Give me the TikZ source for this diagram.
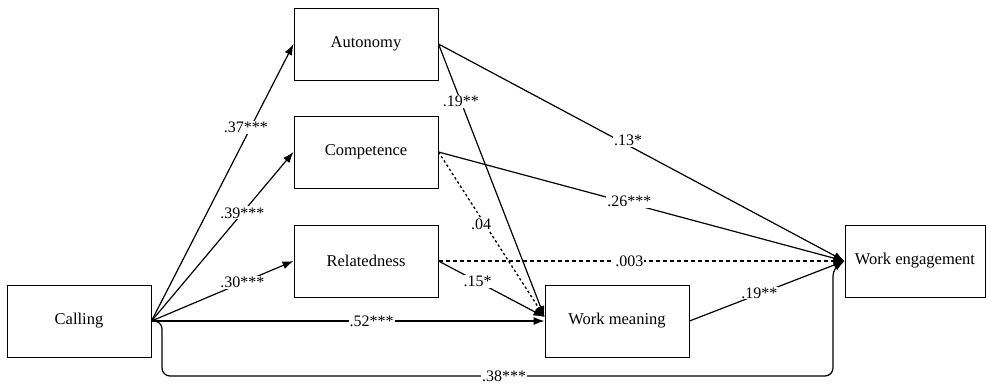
\documentclass[tikz,border=0pt]{standalone}
\usepackage{fontspec}
\setmainfont{Liberation Serif}
\usetikzlibrary{arrows.meta}
\begin{document}
\begin{tikzpicture}[x=1pt,y=-1pt,
  box/.style={draw, line width=1pt, minimum width=144pt, minimum height=72pt, inner sep=0pt, font=\fontsize{16.5}{18}\selectfont},
  conn/.style={line width=1.2pt, -{Latex[length=11pt,width=8pt]}},
  lbl/.style={fill=white, inner sep=1pt, font=\fontsize{16}{18}\selectfont},
  dsh/.style={dash pattern=on 4pt off 3pt},
  dotl/.style={dash pattern=on 2.5pt off 2.5pt, line width=1.3pt}]
\useasboundingbox (0,0) rectangle (987,384);

\node[box] (C) at (79,321) {Calling};
\node[box] (A) at (366,44) {Autonomy};
\node[box] (K) at (366,152) {Competence};
\node[box] (R) at (366,261) {Relatedness};
\node[box] (WM) at (617,321) {Work meaning};
\node[box, minimum width=140pt] (WE) at (915,261) {Work engagement};

\coordinate (wmin) at ([yshift=4pt]WM.west);

% Calling to mediators
\draw[conn] (C.east) -- node[lbl,pos=0.70,xshift=-5pt]{.37***} (A.west);
\draw[conn] (C.east) -- node[lbl,pos=0.64]{.39***} (K.west);
\draw[conn] (C.east) -- node[lbl,pos=0.64]{.30***} (R.west);
\draw[conn] (C.east) -- node[lbl,pos=0.56]{.52***} (WM.west);

% mediators to work meaning
\draw[conn] (A.east) -- node[lbl,pos=0.21]{.19**} (wmin);
\draw[conn,dotl] (K.east) -- node[lbl,pos=0.44,xshift=-4pt]{.04} (wmin);
\draw[conn] (R.east) -- node[lbl,pos=0.37]{.15*} (wmin);

% to work engagement
\draw[conn] (A.east) -- node[lbl,pos=0.467,yshift=5pt]{.13*} (WE.west);
\draw[conn] (K.east) -- node[lbl,pos=0.47,yshift=2pt]{.26***} (WE.west);
\draw[conn,dsh] (R.east) -- node[lbl,pos=0.47]{.003} (WE.west);
\draw[conn] (WM.east) -- node[lbl,pos=0.45,yshift=1pt]{.19**} (WE.west);

% direct path
\draw[conn, rounded corners=8pt] (C.east) -- (162,321) -- (162,376)
  -- node[lbl,pos=0.51]{.38***} (833,376) -- (833,268) -- (WE.west);
\end{tikzpicture}
\end{document}
